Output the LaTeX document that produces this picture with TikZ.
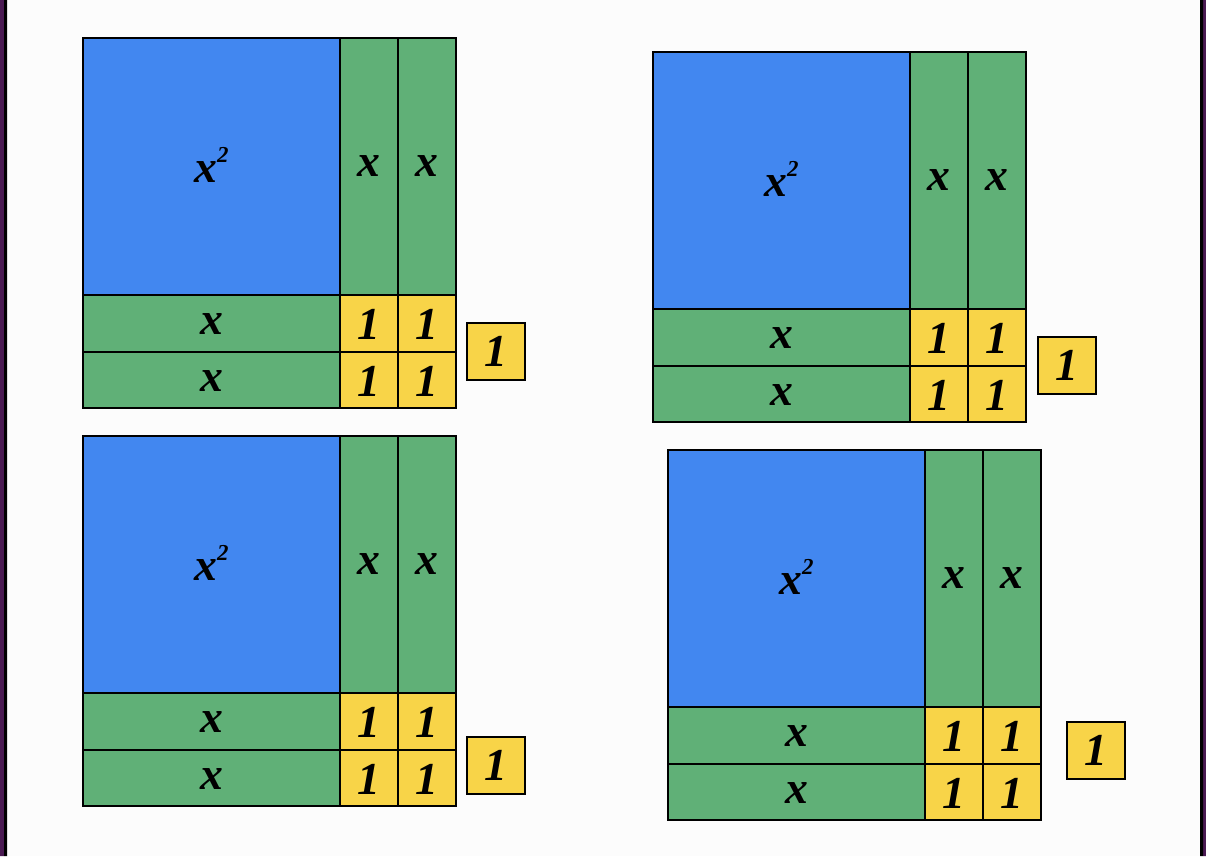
\documentclass[tikz,border=0pt]{standalone}
\usepackage{fontspec}
\setmainfont{Liberation Serif}
\definecolor{sqblue}{HTML}{4287F0}
\definecolor{bargreen}{HTML}{60B077}
\definecolor{unityellow}{HTML}{F8D448}
\definecolor{edgepurple}{HTML}{4A1A52}
\definecolor{paper}{HTML}{FCFCFC}
\tikzset{
  tile/.style={draw=black, line width=1pt},
  lbl/.style={font=\bfseries\itshape\fontsize{26}{30}\selectfont, inner sep=0pt},
}
\begin{document}
\begin{tikzpicture}[x=0.02cm,y=-0.02cm]
	\fill[paper] (0,0) rectangle (1206,856);
	\useasboundingbox (0,0) rectangle (1206,856);
	% side bands
	\fill[edgepurple] (0,0) rectangle (4,856) (1203,0) rectangle (1206,856);
	\fill[black] (4,0) rectangle (7,856) (1200,0) rectangle (1203,856);
	% four arrangements of x^2+4x+4 and one spare unit
	\foreach \n/\ox/\oy/\tx/\ty in {1/83/38/384/285, 2/653/52/385/285, 3/83/436/384/301, 4/668/450/399/272}{
		\begin{scope}[shift={(\ox,\oy)}]
			\draw[tile,fill=sqblue] (0,0) rectangle (257,257);
			\draw[tile,fill=bargreen] (257,0) rectangle (315,257) (315,0) rectangle (373,257);
			\draw[tile,fill=bargreen] (0,257) rectangle (257,314) (0,314) rectangle (257,370);
			\draw[tile,fill=unityellow] (257,257) rectangle (315,314) (315,257) rectangle (373,314)
				(257,314) rectangle (315,370) (315,314) rectangle (373,370);
			\draw[tile,fill=unityellow] (\tx,\ty) rectangle ++(58,57);
			\node[lbl] (sq\n) at (128.5,127) {x\raisebox{0.45em}{\fontsize{13}{13}\selectfont 2}};
			\node[lbl] (xa\n) at (286,128.5) {x};
			\node[lbl] (xb\n) at (344,128.5) {x};
			\node[lbl] (xc\n) at (128.5,286) {x};
			\node[lbl] (xd\n) at (128.5,343) {x};
			\node[lbl] (ua\n) at (286,286) {1};
			\node[lbl] (ub\n) at (344,286) {1};
			\node[lbl] (uc\n) at (286,343) {1};
			\node[lbl] (ud\n) at (344,343) {1};
			\node[lbl] (ue\n) at (\tx+29,\ty+28.5) {1};
		\end{scope}
	}
\end{tikzpicture}
\end{document}
